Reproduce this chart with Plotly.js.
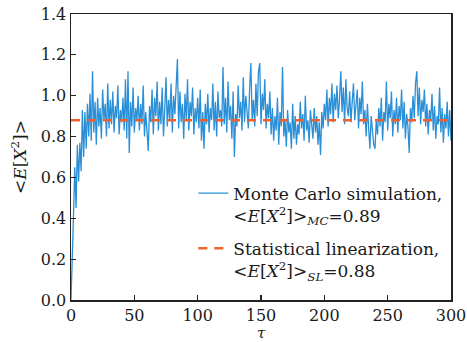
<!DOCTYPE html>
<html><head><meta charset="utf-8">
<script src="https://cdn.plot.ly/plotly-3.0.1.min.js"></script>
<style>body{margin:0;padding:0;background:#fff}#c{width:467px;height:342px}</style>
</head><body><div id="c"></div>
<script>
const tau = [];
for (let i = 0; i <= 300; i++) tau.push(i);
const mcValues = [
0,0.18,0.42,0.65,0.45,0.76,0.58,0.77,0.63,0.93,
0.70,0.92,0.74,0.96,0.80,1.01,0.78,1.12,0.82,0.97,
0.76,0.99,0.85,0.94,0.79,1.03,0.88,0.96,0.80,1.06,
0.84,0.98,0.86,1.02,0.82,0.95,0.89,1.05,0.81,0.93,
0.87,0.99,0.83,1.08,0.79,1.12,0.72,0.97,0.85,1.04,
0.82,0.94,0.88,1.00,0.83,0.96,0.86,1.05,0.80,0.92,
0.84,0.73,0.95,0.87,1.03,0.81,0.99,0.90,1.07,0.83,
0.97,0.86,1.04,0.80,0.93,1.09,0.85,0.98,0.88,1.06,
0.82,1.00,0.91,1.10,1.18,0.84,1.02,0.87,0.96,0.79,
1.01,0.88,1.08,0.83,0.97,0.90,1.04,0.81,0.94,0.87,
0.99,0.84,1.03,0.78,0.92,0.74,0.96,0.86,1.01,0.82,
0.94,0.88,1.06,0.83,0.97,0.80,1.02,0.89,0.93,0.85,
1.14,0.86,0.99,0.82,1.07,0.88,0.95,0.79,1.02,0.70,
0.91,0.85,1.05,0.89,0.97,0.83,1.09,0.87,1.00,0.92,
0.84,1.03,1.16,0.88,0.98,0.85,1.06,0.90,1.12,1.16,
0.86,1.01,0.93,1.08,0.84,0.96,0.89,1.02,0.81,0.94,
0.78,0.90,0.83,0.99,0.76,0.92,0.85,1.14,0.80,0.88,
0.75,0.93,0.82,0.87,0.74,0.96,0.79,0.90,0.76,0.86,
0.81,0.97,0.84,0.91,0.78,1.00,0.83,0.88,0.77,0.93,
0.85,0.79,0.94,0.82,0.90,0.76,0.87,0.71,0.92,0.84,
0.96,0.88,1.03,0.85,0.99,0.91,1.06,0.87,1.01,0.93,
1.05,0.89,0.98,1.12,0.92,1.04,0.86,1.08,0.94,0.90,
1.02,0.87,0.97,1.06,0.88,0.95,1.03,0.84,0.99,0.91,
1.07,0.86,0.93,0.80,0.96,0.84,0.74,0.90,0.82,0.76,
0.74,0.88,0.81,0.94,0.85,0.99,0.78,0.92,0.87,1.07,
0.83,0.96,0.89,1.02,0.80,0.93,0.86,0.99,0.82,0.95,
0.88,1.03,0.84,0.97,0.79,0.91,0.85,0.72,0.94,0.87,
1.00,0.89,1.06,1.12,0.90,1.04,0.86,0.98,0.92,1.03,
0.85,0.96,0.81,0.93,0.88,1.01,0.83,0.95,0.79,0.90,
0.86,1.04,0.82,0.94,0.77,0.91,0.84,0.97,0.80,0.93,
0.78
];
const slTau = [0, 300];
const slValues = [0.88, 0.88];
const mcName = 'Monte Carlo simulation,<br>&lt;<i>E</i>[<i>X</i><sup>2</sup>]&gt;<sub><i>MC</i></sub>=0.89';
const slName = 'Statistical linearization,<br>&lt;<i>E</i>[<i>X</i><sup>2</sup>]&gt;<sub><i>SL</i></sub>=0.88';

const serif = 'DejaVu Serif';
const font = {family: serif, size: 17, color: '#1a1a1a'};
const tickFont = {family: serif, size: 16, color: '#1a1a1a'};
const tauFont = {family: serif, size: 15, color: '#1a1a1a'};
const data = [
  {x: tau, y: mcValues, type: 'scatter', mode: 'lines', name: mcName, legendgroup: 'mc',
   line: {color: '#2a8fd6', width: 1.3}},
  {x: slTau, y: slValues, type: 'scatter', mode: 'lines', name: slName, legendgroup: 'sl',
   line: {color: '#f0602a', width: 2.5, dash: '9px,7px'}}
];
const layout = {
  width: 467, height: 342,
  margin: {l: 71, r: 16, t: 14, b: 42},
  paper_bgcolor: '#fff', plot_bgcolor: '#fff',
  font: font,
  showlegend: true,
  legend: {x: 0.322, y: 0.435, xanchor: 'left', yanchor: 'top', bgcolor: 'rgba(0,0,0,0)',
           font: font, valign: 'top', tracegroupgap: 8},
  annotations: [{text: '<i>τ</i>', xref: 'paper', yref: 'paper', x: 0.5, y: -0.1154,
                 xanchor: 'center', yanchor: 'middle', showarrow: false, font: tauFont,
                 borderpad: 0}],
  xaxis: {range: [0, 300], dtick: 50, tick0: 0, ticks: 'inside', ticklen: 5, tickwidth: 1.2,
          tickcolor: '#222', showline: true, linecolor: '#222', linewidth: 1.5, mirror: true,
          showgrid: false, zeroline: false, tickfont: tickFont, ticklabeloverflow: 'allow'},
  yaxis: {range: [0, 1.4], dtick: 0.2, tick0: 0, tickformat: '.1f', ticks: 'inside', ticklen: 5,
          tickwidth: 1.2, tickcolor: '#222', showline: true, linecolor: '#222', linewidth: 1.5,
          mirror: true, showgrid: false, zeroline: false, tickfont: tickFont,
          title: {text: '&lt;<i>E</i>[<i>X</i><sup>2</sup>]&gt;', font: font, standoff: 10}}
};
Plotly.newPlot('c', data, layout, {displayModeBar: false, staticPlot: true});
</script>
</body></html>
